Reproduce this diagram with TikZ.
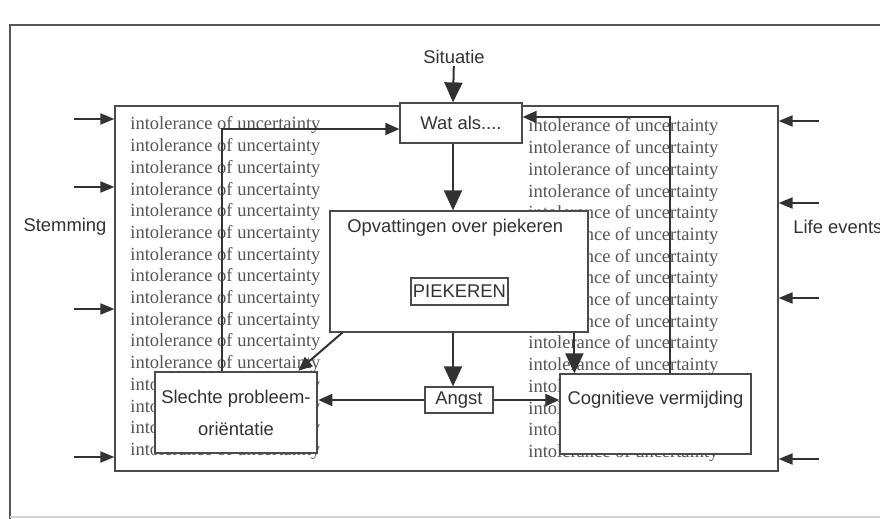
\documentclass[tikz,border=0pt]{standalone}
\usepackage{fontspec}
\setmainfont{Liberation Serif}
\setsansfont{Liberation Sans}
\usetikzlibrary{arrows.meta,positioning}
\definecolor{pkline}{RGB}{75,75,75}
\definecolor{pkdark}{RGB}{50,50,50}
\definecolor{pkgrey}{RGB}{85,85,85}

\begin{document}
\begin{tikzpicture}[x=0.5pt,y=-0.5pt,
  font=\sffamily\fontsize{9.2}{11}\selectfont,
  box/.style={draw=pkline,line width=0.6pt,fill=white,inner sep=2pt,text=pkdark},
  lbl/.style={text=pkdark,inner sep=1pt},
  iou/.style={font=\rmfamily\fontsize{9.25}{11}\selectfont,text=pkgrey,anchor=base west,inner sep=0pt},
  arr/.style={-{Triangle[length=7pt,width=6pt]},line width=1pt,pkdark},
  bigarr/.style={-{Triangle[length=10pt,width=9pt]},line width=1pt,pkdark}
]
  \useasboundingbox (0,0) rectangle (880,519);
  % outer frame
  \draw[pkgrey,line width=0.7pt] (880,25) -- (10,25) -- (10,519);
  \draw[gray!35,line width=0.6pt] (10,517) -- (880,517);

  % main field
  \node[box,minimum width=331.5pt,minimum height=182.5pt] (main) at (446.5,288.5) {};

  % background text
  \foreach \i in {0,...,15} {
    \node[iou] (iouL\i) at (130,{130+21.7*\i}) {intolerance of uncertainty};
    \node[iou] (iouR\i) at (528,{132+21.7*\i}) {intolerance of uncertainty};
  }

  \node[lbl] (sit) at (454,57) {Situatie};
  \node[lbl] (stem) at (65,227) {Stemming};
  \node[lbl,anchor=west] (life) at (791,227) {Life events};

  \node[box,minimum width=61pt,minimum height=20pt] (wat) at (461,123) {Wat als....};
  \node[box,minimum width=129pt,minimum height=60.5pt] (opv) at (459,271.5) {};
  \node[lbl,anchor=west] (opvtxt) at (345,228) {Opvattingen over piekeren};
  \node[box,minimum width=47.5pt,minimum height=13.5pt,inner sep=1pt] (piek) at (459.5,291.5) {PIEKEREN};
  \node[box,minimum width=34pt,minimum height=13pt] (angst) at (459,400) {Angst};
  \node[box,line width=1.3pt,minimum width=81pt,minimum height=40.5pt,align=center,
        font=\sffamily\fontsize{9.2}{16}\selectfont] (sl) at (236,412.5) {Slechte probleem-\\ori\"entatie};
  \node[box,minimum width=95.5pt,minimum height=40pt,align=center,
        font=\sffamily\fontsize{9.2}{16}\selectfont] (cog) at (655.5,414) {Cognitieve vermijding\\\mbox{}};

  % influences from outside
  \foreach \y [count=\k] in {119,187,309,457} {
    \coordinate (inL\k) at (74,\y);
    \draw[arr,-{Triangle[length=7pt,width=5.5pt]}] (inL\k) -- (inL\k -| main.west);
  }
  \foreach \y [count=\k] in {121,203,298,459} {
    \coordinate (inR\k) at (819,\y);
    \draw[arr,-{Triangle[length=7pt,width=5.5pt]}] (inR\k) -- (inR\k -| main.east);
  }

  % main flow
  \coordinate (ax) at (453,0);
  \draw[bigarr] (sit) -- (ax |- wat.north);
  \draw[bigarr] (ax |- wat.south) -- (ax |- opv.north);
  \draw[bigarr] (ax |- opv.south) -- (ax |- angst.north);
  \coordinate (cx) at ([xshift=7.5pt]cog.north west);
  \draw[bigarr] (cx |- opv.south) -- (cx);
  \draw[arr] ([xshift=6.5pt]opv.south west) -- ([xshift=-10pt]sl.north east);
  \draw[arr] (angst.west) -- (angst.west -| sl.east);
  \draw[arr] (angst.east) -- (angst.east -| cog.west);

  % feedback to Wat als
  \draw[arr] ([xshift=-7pt]sl.north) |- ([yshift=-3pt]wat.west);
  \draw[arr] ([xshift=7.25pt]cog.north) |- ([yshift=3pt]wat.east);
\end{tikzpicture}
\end{document}
